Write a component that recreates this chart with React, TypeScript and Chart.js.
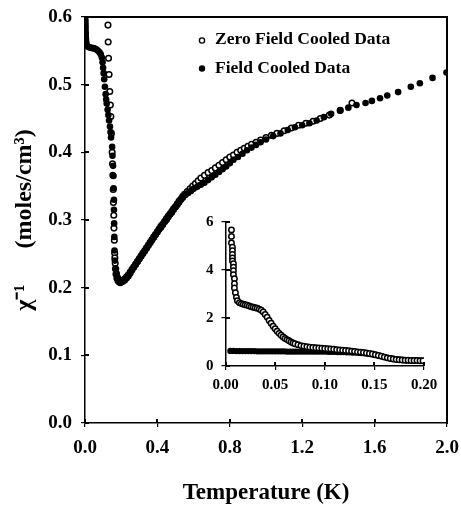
import React, { useEffect, useRef } from 'react';
import { Chart, registerables } from 'chart.js';

Chart.register(...registerables);

const SERIF = '"Liberation Serif", "Times New Roman", Times, serif';

// ---------- Text / ticks ----------
const seriesNames = ['Zero Field Cooled Data', 'Field Cooled Data'];
const xAxisTitle = 'Temperature (K)';
const yAxisTitle = 'χ⁻¹\u2003\u2002(moles/cm³)';

const mainXTickValues = [0, 0.4, 0.8, 1.2, 1.6, 2.0];
const mainXTickLabels = ['0.0', '0.4', '0.8', '1.2', '1.6', '2.0'];
const mainYTickValues = [0, 0.1, 0.2, 0.3, 0.4, 0.5, 0.6];
const mainYTickLabels = ['0.0', '0.1', '0.2', '0.3', '0.4', '0.5', '0.6'];

const insetXTickValues = [0, 0.05, 0.1, 0.15, 0.2];
const insetXTickLabels = ['0.00', '0.05', '0.10', '0.15', '0.20'];
const insetYTickValues = [0, 2, 4, 6];
const insetYTickLabels = ['0', '2', '4', '6'];

// ---------- Main plot data: [T (K), chi^-1] ----------
const fcMain: [number, number][] = [
  [0.002, 0.596], [0.002, 0.592], [0.003, 0.588], [0.003, 0.584], [0.003, 0.58], [0.004, 0.576],
  [0.004, 0.572], [0.005, 0.568], [0.006, 0.564], [0.008, 0.56], [0.012, 0.557], [0.018, 0.556],
  [0.025, 0.555], [0.032, 0.555], [0.04, 0.554], [0.048, 0.554], [0.056, 0.553], [0.064, 0.552],
  [0.072, 0.55], [0.08, 0.548], [0.087, 0.545], [0.093, 0.54], [0.097, 0.533], [0.1, 0.525],
  [0.103, 0.517], [0.106, 0.508], [0.11, 0.497], [0.114, 0.486], [0.117, 0.478], [0.12, 0.472],
  [0.125, 0.463], [0.129, 0.455], [0.133, 0.447], [0.138, 0.438], [0.141, 0.43], [0.144, 0.422],
  [0.15, 0.408], [0.152, 0.395], [0.155, 0.38], [0.157, 0.365], [0.158, 0.347], [0.16, 0.33],
  [0.16, 0.315], [0.161, 0.295], [0.162, 0.275], [0.163, 0.255], [0.165, 0.24], [0.167, 0.228],
  [0.17, 0.22], [0.175, 0.214], [0.181, 0.21], [0.188, 0.208], [0.195, 0.207],
  [0.2, 0.208], [0.21, 0.209], [0.22, 0.211], [0.23, 0.214], [0.24, 0.217], [0.25, 0.221],
  [0.26, 0.226], [0.27, 0.23], [0.28, 0.234], [0.29, 0.238], [0.3, 0.242], [0.31, 0.246],
  [0.32, 0.25], [0.33, 0.254], [0.34, 0.258], [0.35, 0.262], [0.36, 0.266], [0.37, 0.27],
  [0.38, 0.274], [0.39, 0.278], [0.4, 0.282], [0.41, 0.286], [0.42, 0.289], [0.43, 0.293],
  [0.44, 0.297], [0.45, 0.3], [0.46, 0.304], [0.47, 0.308], [0.48, 0.311], [0.49, 0.315],
  [0.5, 0.319], [0.51, 0.322], [0.52, 0.326], [0.53, 0.33], [0.54, 0.333], [0.555, 0.337],
  [0.57, 0.34], [0.585, 0.343], [0.6, 0.346], [0.62, 0.349], [0.64, 0.352], [0.66, 0.355],
  [0.68, 0.359], [0.7, 0.363], [0.72, 0.367], [0.74, 0.371], [0.76, 0.375], [0.78, 0.379],
  [0.8, 0.384], [0.82, 0.389], [0.845, 0.393], [0.87, 0.398], [0.895, 0.403], [0.92, 0.407],
  [0.945, 0.411], [0.97, 0.415], [1.0, 0.419], [1.04, 0.424], [1.08, 0.428], [1.12, 0.433],
  [1.16, 0.437], [1.2, 0.44], [1.24, 0.443], [1.28, 0.447], [1.32, 0.452], [1.36, 0.457],
  [1.41, 0.462], [1.455, 0.466], [1.5, 0.47], [1.55, 0.473], [1.585, 0.476], [1.63, 0.48],
  [1.67, 0.484], [1.73, 0.489], [1.8, 0.497], [1.85, 0.502], [1.92, 0.51], [1.997, 0.518],
];

const zfcMain: [number, number][] = [
  [0.127, 0.588], [0.128, 0.563], [0.13, 0.539], [0.133, 0.515], [0.137, 0.49], [0.14, 0.47],
  [0.143, 0.453], [0.146, 0.428], [0.15, 0.4], [0.152, 0.383], [0.154, 0.366], [0.156, 0.345],
  [0.157, 0.326], [0.159, 0.307], [0.16, 0.288], [0.162, 0.27], [0.164, 0.251], [0.165, 0.244],
  [0.167, 0.236], [0.17, 0.228], [0.174, 0.221], [0.18, 0.215], [0.186, 0.212], [0.193, 0.21],
  [0.2, 0.21], [0.21, 0.211], [0.22, 0.213], [0.23, 0.216], [0.24, 0.219], [0.25, 0.223],
  [0.26, 0.227], [0.27, 0.231], [0.28, 0.235], [0.29, 0.239], [0.3, 0.243], [0.31, 0.247],
  [0.32, 0.251], [0.33, 0.255], [0.34, 0.259], [0.35, 0.263], [0.36, 0.267], [0.37, 0.271],
  [0.38, 0.275], [0.39, 0.279], [0.4, 0.283], [0.41, 0.287], [0.42, 0.291], [0.43, 0.294],
  [0.44, 0.298], [0.45, 0.302], [0.46, 0.306], [0.47, 0.309], [0.48, 0.313], [0.49, 0.317],
  [0.5, 0.32], [0.51, 0.324], [0.52, 0.328], [0.53, 0.331], [0.54, 0.335], [0.55, 0.338],
  [0.565, 0.342], [0.58, 0.346], [0.595, 0.35], [0.61, 0.354], [0.625, 0.358], [0.64, 0.362],
  [0.66, 0.366], [0.68, 0.37], [0.7, 0.373], [0.72, 0.377], [0.74, 0.381], [0.76, 0.385],
  [0.78, 0.389], [0.8, 0.393], [0.82, 0.396], [0.84, 0.4], [0.86, 0.403], [0.88, 0.406],
  [0.9, 0.409], [0.92, 0.412], [0.945, 0.415], [0.97, 0.418], [1.0, 0.422], [1.03, 0.425],
  [1.06, 0.428], [1.1, 0.432], [1.14, 0.436], [1.18, 0.44], [1.22, 0.443], [1.26, 0.446],
  [1.3, 0.45], [1.35, 0.455], [1.41, 0.462], [1.475, 0.473],
];

// ---------- Inset data: [T (K), chi] ----------
const zfcInset: [number, number][] = [
  [0.006, 5.67], [0.006, 5.4], [0.006, 5.13], [0.007, 4.95], [0.007, 4.8], [0.007, 4.65],
  [0.007, 4.5], [0.007, 4.38], [0.008, 4.26], [0.008, 4.12], [0.008, 3.97], [0.008, 3.8],
  [0.009, 3.64], [0.009, 3.43], [0.009, 3.25], [0.01, 3.05], [0.011, 2.86], [0.012, 2.72],
  [0.014, 2.64], [0.016, 2.6], [0.018, 2.57], [0.02, 2.55], [0.022, 2.53], [0.024, 2.5],
  [0.026, 2.47], [0.028, 2.45], [0.03, 2.43], [0.032, 2.41], [0.034, 2.37], [0.036, 2.32],
  [0.038, 2.25], [0.04, 2.15], [0.042, 2.03], [0.044, 1.9], [0.046, 1.78], [0.048, 1.66],
  [0.05, 1.55], [0.052, 1.45], [0.054, 1.36], [0.056, 1.28], [0.058, 1.21], [0.06, 1.15],
  [0.062, 1.1], [0.064, 1.05], [0.066, 1.0], [0.068, 0.96], [0.07, 0.93], [0.073, 0.89],
  [0.076, 0.85], [0.079, 0.82], [0.082, 0.8], [0.085, 0.78], [0.088, 0.77], [0.091, 0.76],
  [0.094, 0.75], [0.097, 0.74], [0.1, 0.73], [0.103, 0.72], [0.106, 0.71], [0.109, 0.7],
  [0.112, 0.68], [0.115, 0.67], [0.118, 0.66], [0.121, 0.65], [0.124, 0.64], [0.127, 0.62],
  [0.13, 0.61], [0.133, 0.59], [0.136, 0.58], [0.139, 0.56], [0.142, 0.54], [0.145, 0.52],
  [0.148, 0.5], [0.151, 0.47], [0.154, 0.44], [0.157, 0.41], [0.16, 0.37], [0.163, 0.34],
  [0.166, 0.31], [0.169, 0.29], [0.172, 0.27], [0.175, 0.26], [0.178, 0.25], [0.181, 0.24],
  [0.184, 0.24], [0.187, 0.23], [0.19, 0.23], [0.193, 0.23], [0.196, 0.22], [0.199, 0.22],
];

const fcInset: [number, number][] = [
  [0.005, 0.63], [0.008, 0.63], [0.011, 0.62], [0.014, 0.62], [0.017, 0.62], [0.02, 0.62],
  [0.023, 0.62], [0.026, 0.62], [0.029, 0.62], [0.032, 0.61], [0.035, 0.61], [0.038, 0.61],
  [0.041, 0.61], [0.044, 0.61], [0.047, 0.61], [0.05, 0.61], [0.053, 0.61], [0.056, 0.61],
  [0.059, 0.61], [0.062, 0.6], [0.065, 0.6], [0.068, 0.6], [0.071, 0.6], [0.074, 0.6],
  [0.077, 0.6], [0.08, 0.6], [0.083, 0.6], [0.086, 0.6], [0.089, 0.6], [0.092, 0.6],
  [0.095, 0.6], [0.098, 0.6], [0.101, 0.6], [0.104, 0.59], [0.107, 0.59], [0.11, 0.59],
  [0.113, 0.58], [0.116, 0.58], [0.119, 0.58], [0.122, 0.57], [0.125, 0.57], [0.128, 0.56],
  [0.131, 0.56], [0.134, 0.55], [0.137, 0.54], [0.14, 0.53], [0.143, 0.52], [0.146, 0.5],
  [0.149, 0.48], [0.152, 0.46], [0.155, 0.43], [0.158, 0.4], [0.161, 0.37], [0.164, 0.34],
  [0.167, 0.31], [0.17, 0.29], [0.173, 0.27], [0.176, 0.26], [0.179, 0.25], [0.182, 0.24],
  [0.185, 0.24], [0.188, 0.23], [0.191, 0.23], [0.194, 0.22], [0.197, 0.22],
];

const toXY = (pts: [number, number][]) => pts.map(([x, y]) => ({ x, y }));

function bounds(chart: any) {
  const sx = chart.scales.x;
  const sy = chart.scales.y;
  return {
    left: sx.getPixelForValue(sx.min),
    right: sx.getPixelForValue(sx.max),
    top: sy.getPixelForValue(sy.max),
    bottom: sy.getPixelForValue(sy.min),
  };
}

function drawInnerTicks(chart: any, len: number) {
  const { ctx, scales } = chart;
  const b = bounds(chart);
  ctx.save();
  ctx.fillStyle = '#000';
  mainOrInsetTicks(scales.x).forEach((v: number) => {
    const px = Math.round(scales.x.getPixelForValue(v));
    ctx.fillRect(px - 1, Math.round(b.bottom) - len, 2, len);
  });
  mainOrInsetTicks(scales.y).forEach((v: number) => {
    const py = Math.round(scales.y.getPixelForValue(v));
    ctx.fillRect(Math.round(b.left), py - 1, len, 2);
  });
  ctx.restore();
}

function mainOrInsetTicks(scale: any): number[] {
  return scale.ticks.map((t: any) => t.value);
}

const mainDecorPlugin = {
  id: 'mainDecor',
  afterDraw(chart: any) {
    const { ctx } = chart;
    const b = bounds(chart);
    drawInnerTicks(chart, 4);
    // top and right frame lines
    ctx.save();
    ctx.fillStyle = '#000';
    const l = Math.round(b.left);
    const r = Math.round(b.right);
    const t = Math.round(b.top);
    const bt = Math.round(b.bottom);
    ctx.fillRect(l - 1, t - 1, r - l + 2, 2);
    ctx.fillRect(r - 1, t - 1, 2, bt - t + 2);
    ctx.restore();
    // legend
    const cx = b.left + 117;
    const y1 = b.top + 22;
    const y2 = b.top + 51;
    ctx.save();
    ctx.fillStyle = '#000';
    ctx.strokeStyle = '#000';
    ctx.font = `bold 17.5px ${SERIF}`;
    ctx.textBaseline = 'middle';
    ctx.textAlign = 'left';
    ctx.beginPath();
    ctx.arc(cx, y1 + 1.5, 2.6, 0, Math.PI * 2);
    ctx.lineWidth = 1.4;
    ctx.stroke();
    ctx.fillText(seriesNames[0], cx + 13, y1);
    ctx.beginPath();
    ctx.arc(cx, y2 + 0.5, 3.2, 0, Math.PI * 2);
    ctx.fill();
    ctx.fillText(seriesNames[1], cx + 13, y2);
    ctx.restore();
  },
};

const insetDecorPlugin = {
  id: 'insetDecor',
  afterDraw(chart: any) {
    drawInnerTicks(chart, 4);
  },
};

function axisCommon(tickLen: number) {
  return {
    grid: { display: true, drawOnChartArea: false, drawTicks: true, tickLength: tickLen, color: '#000', lineWidth: 1.2 },
    border: { display: true, color: '#000', width: 1.5 },
  };
}

export default function App() {
  const mainRef = useRef<HTMLCanvasElement>(null);
  const insetRef = useRef<HTMLCanvasElement>(null);

  useEffect(() => {
    const main = new Chart(mainRef.current!, {
      type: 'scatter',
      data: {
        datasets: [
          {
            label: seriesNames[1],
            data: toXY(fcMain),
            pointRadius: 3.3,
            pointBackgroundColor: '#000',
            pointBorderColor: '#000',
            pointBorderWidth: 0,
            order: 0,
          } as any,
          {
            label: seriesNames[0],
            data: toXY(zfcMain),
            pointRadius: 2.8,
            pointBackgroundColor: '#fff',
            pointBorderColor: '#000',
            pointBorderWidth: 1.5,
            order: 1,
          } as any,
        ],
      },
      options: {
        animation: false,
        responsive: false,
        devicePixelRatio: 1,
        events: [],
        layout: { padding: { left: 0, top: 17, right: 14, bottom: 0 } },
        plugins: { legend: { display: false }, tooltip: { enabled: false } },
        scales: {
          x: {
            type: 'linear',
            min: 0,
            max: 2,
            afterBuildTicks: (s: any) => { s.ticks = mainXTickValues.map((v) => ({ value: v })); },
            afterFit: (s: any) => { s.height = 83; s.paddingLeft = 0; s.paddingRight = 0; },
            ticks: {
              autoSkip: false,
              maxRotation: 0,
              padding: 10,
              color: '#000',
              font: { family: SERIF, size: 19, weight: 'bold', lineHeight: 1.2 },
              callback: (_v: any, i: number) => mainXTickLabels[i],
            },
            title: {
              display: true,
              text: xAxisTitle,
              color: '#000',
              font: { family: SERIF, size: 23, weight: 'bold', lineHeight: 1 },
              padding: { top: 0, bottom: 1.5 },
            },
            ...axisCommon(4),
          },
          y: {
            type: 'linear',
            min: 0,
            max: 0.6,
            afterBuildTicks: (s: any) => { s.ticks = mainYTickValues.map((v) => ({ value: v })); },
            afterFit: (s: any) => { s.width = 85; s.paddingTop = 0; s.paddingBottom = 0; },
            ticks: {
              autoSkip: false,
              padding: 9,
              color: '#000',
              font: { family: SERIF, size: 19, weight: 'bold', lineHeight: 1.2 },
              callback: (_v: any, i: number) => mainYTickLabels[i],
            },
            title: {
              display: true,
              text: yAxisTitle,
              color: '#000',
              font: { family: SERIF, size: 24, weight: 'bold', lineHeight: 1 },
              padding: { top: 13, bottom: 0 },
            },
            ...axisCommon(4),
          },
          x2: {
            type: 'linear',
            position: 'top',
            min: 0,
            max: 2,
            ticks: { display: false },
            grid: { display: false, drawTicks: false },
            border: { display: true, color: '#000', width: 1.5 },
            afterFit: (s: any) => { s.height = 0; s.paddingLeft = 0; s.paddingRight = 0; },
          },
          y2: {
            type: 'linear',
            position: 'right',
            min: 0,
            max: 0.6,
            ticks: { display: false },
            grid: { display: false, drawTicks: false },
            border: { display: true, color: '#000', width: 1.5 },
            afterFit: (s: any) => { s.width = 0; s.paddingTop = 0; s.paddingBottom = 0; },
          },
        },
      } as any,
      plugins: [mainDecorPlugin],
    });

    const inset = new Chart(insetRef.current!, {
      type: 'scatter',
      data: {
        datasets: [
          {
            label: seriesNames[1],
            data: toXY(fcInset),
            pointRadius: 3.2,
            pointBackgroundColor: '#000',
            pointBorderColor: '#000',
            pointBorderWidth: 0,
            order: 1,
          } as any,
          {
            label: seriesNames[0],
            data: toXY(zfcInset),
            pointRadius: 2.7,
            pointBackgroundColor: '#fff',
            pointBorderColor: '#000',
            pointBorderWidth: 1.5,
            order: 0,
          } as any,
        ],
      },
      options: {
        animation: false,
        responsive: false,
        devicePixelRatio: 1,
        events: [],
        layout: { padding: { left: 0, top: 16, right: 21, bottom: 0 } },
        plugins: { legend: { display: false }, tooltip: { enabled: false } },
        scales: {
          x: {
            type: 'linear',
            min: 0,
            max: 0.2,
            afterBuildTicks: (s: any) => { s.ticks = insetXTickValues.map((v) => ({ value: v })); },
            afterFit: (s: any) => { s.height = 34; },
            ticks: {
              autoSkip: false,
              maxRotation: 0,
              padding: 6,
              color: '#000',
              font: { family: SERIF, size: 15, weight: 'bold', lineHeight: 1.2 },
              callback: (_v: any, i: number) => insetXTickLabels[i],
            },
            ...axisCommon(4),
          },
          y: {
            type: 'linear',
            min: 0,
            max: 6,
            afterBuildTicks: (s: any) => { s.ticks = insetYTickValues.map((v) => ({ value: v })); },
            afterFit: (s: any) => { s.width = 35.5; },
            ticks: {
              autoSkip: false,
              padding: 8,
              color: '#000',
              font: { family: SERIF, size: 15, weight: 'bold', lineHeight: 1.2 },
              callback: (_v: any, i: number) => insetYTickLabels[i],
            },
            ...axisCommon(4),
          },
        },
      } as any,
      plugins: [insetDecorPlugin],
    });

    return () => {
      main.destroy();
      inset.destroy();
    };
  }, []);

  return (
    <div style={{ position: 'absolute', left: 0, top: 0, width: 461, height: 506 }}>
      <canvas ref={mainRef} width={461} height={506} style={{ position: 'absolute', left: 0, top: 0, display: 'block' }} />
      <canvas ref={insetRef} width={255} height={195} style={{ position: 'absolute', left: 190, top: 205, display: 'block' }} />
    </div>
  );
}
